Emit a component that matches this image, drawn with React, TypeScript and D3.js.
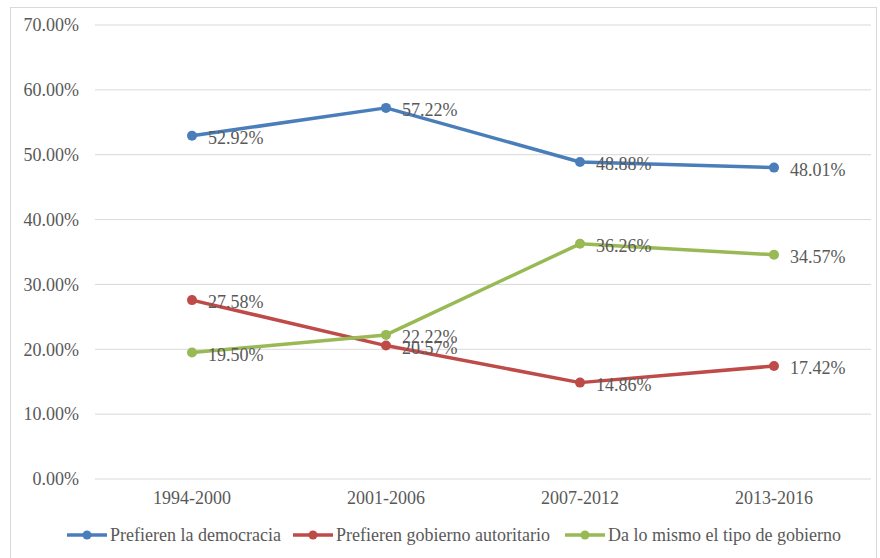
import React from "react";
import * as d3 from "d3";

const categories = ["1994-2000", "2001-2006", "2007-2012", "2013-2016"];
const seriesNames = ["Prefieren la democracia", "Prefieren gobierno autoritario", "Da lo mismo el tipo de gobierno"];
const democracia = [52.92, 57.22, 48.88, 48.01];
const autoritario = [27.58, 20.57, 14.86, 17.42];
const daLoMismo = [19.5, 22.22, 36.26, 34.57];
const yTicks = [0, 10, 20, 30, 40, 50, 60, 70];
const colors = ["#4a7ebb", "#be4b48", "#98b954"];

const W = 880, H = 558;
const margin = { left: 95, right: 9, top: 25, bottom: 79 };
const FONT = "Liberation Serif, Tinos, Times New Roman, DejaVu Serif, serif";
const TXT = "#595959";

export default function App() {
  const series = [democracia, autoritario, daLoMismo];
  const x = d3.scaleBand().domain(categories).range([margin.left, W - margin.right]);
  const y = d3.scaleLinear().domain([0, 70]).range([H - margin.bottom, margin.top]);
  const line = d3.line<number>().x((_, i) => x(categories[i])! + x.bandwidth() / 2).y((d) => y(d));
  const legendX = [67, 293, 565];
  const legendY = 535;
  const fs = 18;
  return (
    <svg width={W} height={H} style={{ position: "absolute", left: 0, top: 0, fontFamily: FONT }}>
      <rect x={0} y={0} width={W} height={H} fill="#fff" />
      <rect x={10.5} y={7.5} width={W - 14} height={H - 4} fill="none" stroke="#d9d9d9" />
      {yTicks.map((t) => (
        <g key={t}>
          <line x1={margin.left} x2={W - margin.right} y1={y(t)} y2={y(t)} stroke="#d9d9d9" strokeWidth={1} />
          <text x={79} y={y(t)} dy="0.35em" textAnchor="end" style={{ fontSize: fs, fontFamily: FONT }} fill={TXT}>
            {t.toFixed(2) + "%"}
          </text>
        </g>
      ))}
      {categories.map((c) => (
        <text key={c} x={x(c)! + x.bandwidth() / 2} y={504} textAnchor="middle" style={{ fontSize: fs, fontFamily: FONT }} fill={TXT}>
          {c}
        </text>
      ))}
      {series.map((s, si) => (
        <g key={si}>
          <path d={line(s)!} fill="none" stroke={colors[si]} strokeWidth={3.5} strokeLinejoin="round" />
          {s.map((v, i) => (
            <circle key={i} cx={x(categories[i])! + x.bandwidth() / 2} cy={y(v)} r={5} fill={colors[si]} />
          ))}
        </g>
      ))}
      {series.map((s, si) =>
        s.map((v, i) => (
          <text key={si + "-" + i} x={x(categories[i])! + x.bandwidth() / 2 + 16} y={y(v)} dy="0.45em" style={{ fontSize: fs, fontFamily: FONT }} fill={TXT}>
            {v.toFixed(2) + "%"}
          </text>
        ))
      )}
      {seriesNames.map((n, i) => (
        <g key={n}>
          <line x1={legendX[i]} x2={legendX[i] + 40} y1={legendY} y2={legendY} stroke={colors[i]} strokeWidth={3.5} />
          <circle cx={legendX[i] + 20} cy={legendY} r={4.5} fill={colors[i]} />
          <text x={legendX[i] + 43} y={legendY} dy="0.35em" style={{ fontSize: fs, fontFamily: FONT }} fill={TXT}>
            {n}
          </text>
        </g>
      ))}
    </svg>
  );
}
